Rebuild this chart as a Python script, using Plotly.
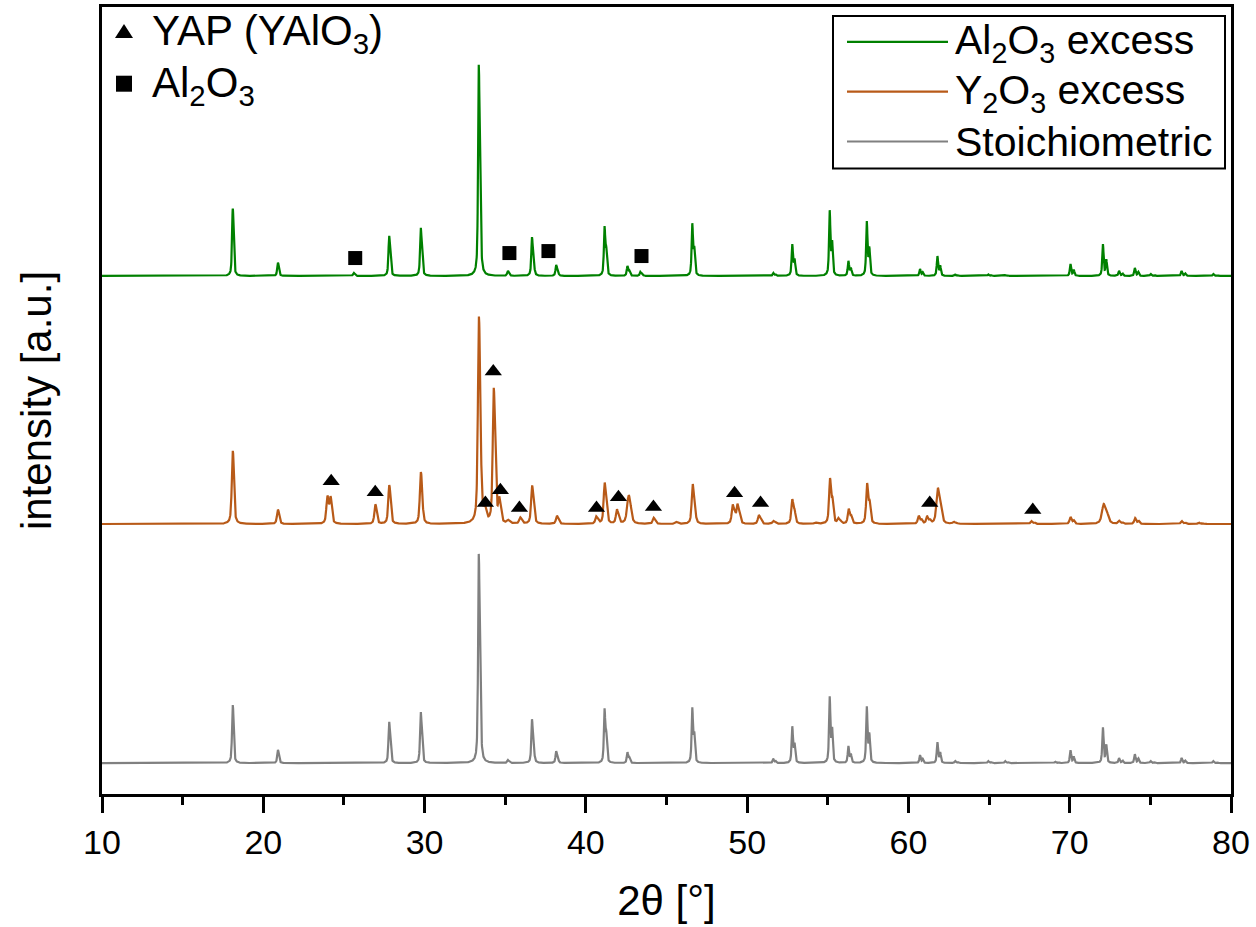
import numpy as np
import plotly.graph_objects as go

# 2θ scan grid [°]
TT_START, TT_END, TT_STEP = 10.0, 80.0, 0.01

# Cu Kα2 / Kα1 wavelength ratio and intensity ratio
KA2_RATIO = 1.00248
KA2_REL = 0.5

# ---- Al2O3 excess: reflection positions [°], net heights [a.u.] ----
al_pos = [18.10, 20.90, 25.60, 27.80, 29.76, 33.36, 35.16, 36.66, 38.16, 41.16,
          42.58, 43.38, 46.60, 51.62, 52.80, 55.12, 56.28, 57.42, 60.72, 61.80,
          62.90, 64.95, 66.00, 70.05, 72.06, 73.06, 74.04, 75.02, 76.94, 78.90]
al_int = [66, 13, 3, 40, 48, 212, 5, 39, 11, 50,
          10, 4, 53, 3, 32, 66, 15, 55, 7, 20,
          1.5, 1.5, 1, 12, 32, 5, 8, 2, 5, 2]

# ---- Y2O3 excess (YAG + YAP) ----
y_pos = [18.10, 20.90, 23.96, 24.16, 26.94, 27.80, 29.76, 33.36, 33.72, 34.28,
         34.62, 35.16, 35.92, 36.66, 38.20, 40.64, 41.16, 41.92, 42.64, 44.20,
         45.60, 46.62, 49.10, 49.40, 50.72, 51.62, 52.80, 54.20, 55.14, 55.65,
         56.30, 57.44, 60.64, 61.16, 61.82, 62.80, 67.62, 70.05, 72.10, 73.06,
         74.06, 76.94, 78.00]
y_int = [72, 14, 26, 25, 19, 38, 51, 204, 12, 133,
         22, 3, 6, 38, 8, 7, 41, 14, 28, 6,
         2, 40, 19, 19, 9, 3, 25, 1.5, 46, 5,
         15, 41, 8, 7, 36, 2, 3, 7, 20, 3,
         6, 3, 1.5]
y_fwhm = [0.14] * len(y_pos)
y_fwhm[y_pos.index(42.64)] = 0.22
y_fwhm[y_pos.index(61.82)] = 0.20
y_fwhm[y_pos.index(72.10)] = 0.25

# ---- Stoichiometric (single-phase YAG) ----
st_pos = [18.10, 20.90, 27.80, 29.76, 33.36, 35.16, 36.66, 38.16, 41.16, 42.58,
          46.60, 51.62, 52.80, 55.12, 56.28, 57.42, 60.72, 61.80, 62.90, 64.95,
          66.00, 69.10, 70.05, 72.06, 73.06, 74.04, 75.02, 76.94, 78.90]
st_int = [57, 13, 41, 51, 210, 3, 44, 12, 55, 11,
          56, 4, 37, 67, 17, 57, 8, 21, 2, 2,
          2, 1.5, 13, 36, 5, 9, 2, 5, 2]

# vertical stacking offsets [a.u.]
offset_st, offset_y, offset_al = 31, 271, 520

# phase markers: 2θ [°] and level [a.u.]
yap_pos = [24.21, 26.94, 34.26, 33.77, 34.70, 35.88, 40.66, 42.02, 44.19,
           49.22, 50.83, 61.32, 67.71]
yap_lvl = [314, 303, 424, 292, 305, 287, 287, 298, 288, 302, 292, 292, 285]
alu_pos = [25.70, 35.26, 37.68, 43.45]
alu_lvl = [538, 543, 545, 540]

sample_names = ["Al<sub>2</sub>O<sub>3</sub> excess", "Y<sub>2</sub>O<sub>3</sub> excess", "Stoichiometric"]
sample_colors = ["#008000", "#B85A18", "#808080"]
phase_names = ["YAP (YAlO<sub>3</sub>)", "Al<sub>2</sub>O<sub>3</sub>"]

tt = np.arange(TT_START, TT_END + TT_STEP / 2, TT_STEP)


def pseudo_voigt(x, x0, w, eta=0.6):
    d = (x - x0) / w
    return eta / (1 + 4 * d * d) + (1 - eta) * np.exp(-4 * np.log(2) * d * d)


def pattern(pos, height, fwhm, offset):
    """Sum of Kα1/Kα2 pseudo-Voigt doublets on a flat baseline."""
    y = np.full_like(tt, float(offset))
    for p, h, w in zip(pos, height, fwhm):
        th = np.radians(p / 2)
        p2 = np.degrees(2 * np.arcsin(min(np.sin(th) * KA2_RATIO, 1.0)))
        # scale so that the doublet maximum equals the stated height
        a = h / (1 + KA2_REL * pseudo_voigt(p, p2, w))
        y += a * pseudo_voigt(tt, p, w) + a * KA2_REL * pseudo_voigt(tt, p2, w)
    return y


curves = [
    pattern(al_pos, al_int, [0.10] * len(al_pos), offset_al),
    pattern(y_pos, y_int, y_fwhm, offset_y),
    pattern(st_pos, st_int, [0.10] * len(st_pos), offset_st),
]

fig = go.Figure()
for name, color, curve in zip(sample_names, sample_colors, curves):
    fig.add_trace(go.Scatter(x=tt, y=curve, mode="lines", name=name,
                             line=dict(color=color, width=2.2)))
fig.add_trace(go.Scatter(x=yap_pos, y=yap_lvl, mode="markers", name=phase_names[0],
                         marker=dict(symbol="triangle-up", size=15, color="black")))
fig.add_trace(go.Scatter(x=alu_pos, y=alu_lvl, mode="markers", name=phase_names[1],
                         marker=dict(symbol="square", size=14, color="black")))

# plot frame in pixels (figure 1256 x 927)
L, R, T, B = 102, 1231, 4, 794


def fx(px):
    return (px - L) / (R - L)


def fy(py):
    return (B - py) / (B - T)


shapes = []
annotations = []

# sample key, top right
shapes.append(dict(type="rect", xref="paper", yref="paper",
                   x0=fx(833), x1=fx(1225), y0=fy(166), y1=fy(13),
                   line=dict(color="black", width=2), fillcolor="white", layer="above"))
for i, (name, color) in enumerate(zip(sample_names, sample_colors)):
    yc = 39 + 50 * i
    shapes.append(dict(type="line", xref="paper", yref="paper",
                       x0=fx(847), x1=fx(948), y0=fy(yc), y1=fy(yc),
                       line=dict(color=color, width=2.2)))
    annotations.append(dict(xref="paper", yref="paper", x=fx(953), y=fy(yc + 1),
                            xanchor="left", yanchor="middle", showarrow=False,
                            text=name, font=dict(size=41)))

# phase key, top left
phase_symbols = [
    dict(type="path", path="M-9,-6 L9,-6 L0,8 Z"),
    dict(type="rect", x0=-8, x1=8, y0=-8, y1=8),
]
for i, (name, sym) in enumerate(zip(phase_names, phase_symbols)):
    yc = 29 + 52 * i
    shapes.append(dict(xref="paper", yref="paper", xsizemode="pixel", ysizemode="pixel",
                       xanchor=fx(124), yanchor=fy(yc), fillcolor="black",
                       line=dict(width=0), **sym))
    annotations.append(dict(xref="paper", yref="paper", x=fx(150), y=fy(yc + 2),
                            xanchor="left", yanchor="middle", showarrow=False,
                            text=name, font=dict(size=42)))

fig.update_layout(
    width=1256, height=927,
    margin=dict(l=L, r=1256 - R, t=T, b=927 - B),
    paper_bgcolor="white", plot_bgcolor="white",
    showlegend=False,
    font=dict(family="Liberation Sans, Arial, sans-serif", color="black", size=40),
    xaxis=dict(range=[10, 80], tickmode="linear", tick0=10, dtick=10,
               ticks="outside", ticklen=16, tickwidth=2.5, tickcolor="black",
               minor=dict(ticks="outside", dtick=5, ticklen=8, tickwidth=2.5, tickcolor="black"),
               showline=True, linewidth=3, linecolor="black", mirror=True,
               showgrid=False, zeroline=False, tickfont=dict(size=34),
               title=dict(text="2θ [°]", font=dict(size=42), standoff=26)),
    yaxis=dict(range=[0, 790], showticklabels=False, ticks="",
               showline=True, linewidth=3, linecolor="black", mirror=True,
               showgrid=False, zeroline=False,
               title=dict(text="intensity [a.u.]", font=dict(size=42), standoff=35)),
    shapes=shapes,
    annotations=annotations,
)

fig.write_html("out.html")
